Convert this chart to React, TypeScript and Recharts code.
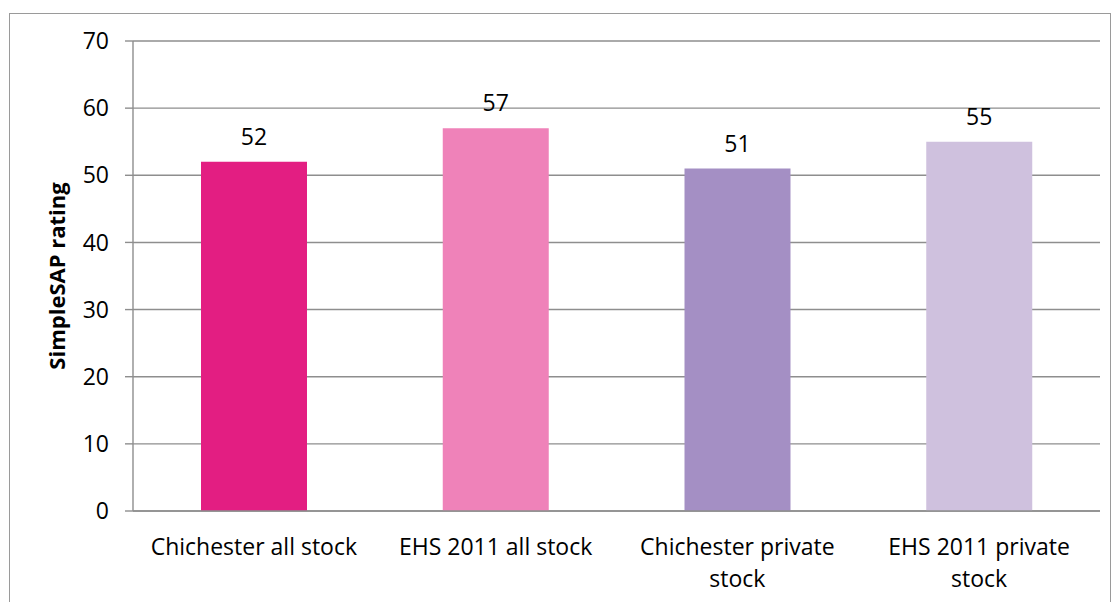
import React from 'react';
import { BarChart, Bar, XAxis, YAxis, CartesianGrid, LabelList, Cell } from 'recharts';

const categories = ['Chichester all stock', 'EHS 2011 all stock', 'Chichester private stock', 'EHS 2011 private stock'];
const tickLines = [['Chichester all stock'], ['EHS 2011 all stock'], ['Chichester private', 'stock'], ['EHS 2011 private', 'stock']];
const values = [52, 57, 51, 55];
const colors = ['#E31E82', '#EF82B9', '#A48FC4', '#CFC1DE'];
const yTicks = [0, 10, 20, 30, 40, 50, 60, 70];
const edgeTicks = [0, 1, 2, 3, 4];

const data = categories.map((name, i) => ({ name, value: values[i], edge: i }));

const FONT = "'Open Sans', sans-serif";

const CatTick = (props: any) => {
  const { x, payload } = props;
  const idx = categories.indexOf(payload.value);
  const lines = idx >= 0 ? tickLines[idx] : [String(payload.value)];
  return (
    <text x={x} y={555} textAnchor="middle" fontSize={23} fontFamily={FONT} fill="#000">
      {lines.map((l, i) => (
        <tspan key={i} x={x} dy={i === 0 ? 0 : 32}>
          {l}
        </tspan>
      ))}
    </text>
  );
};

const EdgeTick = (props: any) => {
  const { x, y } = props;
  return <line x1={x} x2={x} y1={y} y2={y + 7} stroke="#8e8e8e" strokeWidth={1.4} />;
};

export default function App() {
  return (
    <div style={{ position: 'absolute', left: 0, top: 0, width: 1114, height: 602, background: '#fff', overflow: 'hidden' }}>
      <div
        style={{
          position: 'absolute',
          left: 9,
          top: 13,
          width: 1102,
          height: 640,
          border: '1px solid #9a9a9a',
          boxSizing: 'border-box',
        }}
      />
      <div style={{ position: 'absolute', left: 0, top: 0 }}>
        <BarChart width={1114} height={602} data={data} margin={{ top: 41, right: 14, bottom: 0, left: 0 }}>
          <CartesianGrid xAxisId="cat" vertical={false} stroke="#8e8e8e" strokeWidth={1.4} />
          <XAxis
            xAxisId="edge"
            type="number"
            dataKey="edge"
            domain={[0, 4]}
            ticks={edgeTicks}
            height={0}
            axisLine={false}
            tickSize={0}
            tickMargin={0}
            tickLine={false}
            tick={<EdgeTick />}
            interval={0}
          />
          <XAxis
            xAxisId="cat"
            dataKey="name"
            type="category"
            height={91}
            axisLine={{ stroke: '#8e8e8e', strokeWidth: 1.4 }}
            tickLine={false}
            tick={<CatTick />}
            interval={0}
          />
          <YAxis
            type="number"
            domain={[0, 70]}
            ticks={yTicks}
            width={133}
            axisLine={{ stroke: '#8e8e8e', strokeWidth: 1.4 }}
            tickLine={{ stroke: '#8e8e8e', strokeWidth: 1.4 }}
            tickSize={8}
            tickMargin={16}
            tick={{ fontSize: 23, fontFamily: FONT, fill: '#000' }}
            label={{
              value: 'SimpleSAP rating',
              angle: -90,
              position: 'insideLeft',
              dx: 52,
              style: { fontSize: 22, fontWeight: 700, fontFamily: FONT, fill: '#000', textAnchor: 'middle' },
            }}
          />
          <Bar xAxisId="cat" dataKey="value" barSize={106} isAnimationActive={false}>
            {data.map((d, i) => (
              <Cell key={d.name} fill={colors[i]} />
            ))}
            <LabelList dataKey="value" position="top" offset={17} style={{ fontSize: 23, fontFamily: FONT, fill: '#000' }} />
          </Bar>
        </BarChart>
      </div>
    </div>
  );
}
